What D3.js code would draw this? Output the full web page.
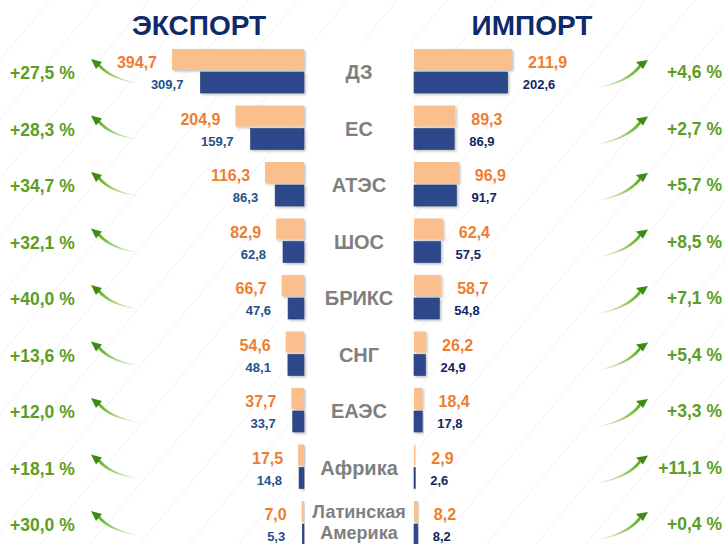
<!DOCTYPE html>
<html>
<head>
<meta charset="utf-8">
<script src="https://cdn.jsdelivr.net/npm/d3@7"></script>
<style>
  body { margin: 0; background: #fff; }
  text { font-family: "Liberation Sans", Arial, sans-serif; font-weight: bold; }
</style>
</head>
<body>
<div id="chart"></div>
<script>
// data
const regions = ["ДЗ", "ЕС", "АТЭС", "ШОС", "БРИКС", "СНГ", "ЕАЭС", "Африка", "Латинская Америка"];
const exportCur = [394.7, 204.9, 116.3, 82.9, 66.7, 54.6, 37.7, 17.5, 7.0];
const exportPrev = [309.7, 159.7, 86.3, 62.8, 47.6, 48.1, 33.7, 14.8, 5.3];
const exportChange = ["+27,5 %", "+28,3 %", "+34,7 %", "+32,1 %", "+40,0 %", "+13,6 %", "+12,0 %", "+18,1 %", "+30,0 %"];
const importCur = [211.9, 89.3, 96.9, 62.4, 58.7, 26.2, 18.4, 2.9, 8.2];
const importPrev = [202.6, 86.9, 91.7, 57.5, 54.8, 24.9, 17.8, 2.6, 8.2];
const importChange = ["+4,6 %", "+2,7 %", "+5,7 %", "+8,5 %", "+7,1 %", "+5,4 %", "+3,3 %", "+11,1 %", "+0,4 %"];
const titles = ["ЭКСПОРТ", "ИМПОРТ"];

const width = 725, height = 544;
const leftEdge = 304, rightEdge = 414;
const barH = 21, barGap = 2;

const svg = d3.select("#chart")
  .append("svg")
    .attr("width", width)
    .attr("height", height);

const defs = svg.append("defs");

// faint diagonal background texture
const pat = defs.append("pattern")
  .attr("id", "stripes")
  .attr("width", 38).attr("height", 38)
  .attr("patternUnits", "userSpaceOnUse")
  .attr("patternTransform", "rotate(40)");
pat.append("line")
  .attr("x1", 0).attr("y1", 0).attr("x2", 0).attr("y2", 38)
  .attr("stroke", "#f3f3f3").attr("stroke-width", 2);

const shadow = defs.append("filter").attr("id", "shadow")
  .attr("x", "-10%").attr("y", "-20%").attr("width", "130%").attr("height", "160%");
shadow.append("feDropShadow")
  .attr("dx", 1.5).attr("dy", 1.5).attr("stdDeviation", 1)
  .attr("flood-color", "#000").attr("flood-opacity", 0.25);

const grad = defs.append("linearGradient").attr("id", "arrowGrad")
  .attr("x1", "0%").attr("x2", "100%");
grad.append("stop").attr("offset", "0%").attr("stop-color", "#d8efb0").attr("stop-opacity", 0.5);
grad.append("stop").attr("offset", "100%").attr("stop-color", "#5aab1a");

const leftGrad = defs.append("linearGradient").attr("id", "arrowGradL")
  .attr("x1", "100%").attr("x2", "0%");
leftGrad.append("stop").attr("offset", "0%").attr("stop-color", "#d8efb0").attr("stop-opacity", 0.5);
leftGrad.append("stop").attr("offset", "100%").attr("stop-color", "#5aab1a");

svg.append("rect").attr("width", width).attr("height", height).attr("fill", "#fff");
svg.append("rect").attr("width", width).attr("height", height).attr("fill", "url(#stripes)");

// white centre column
svg.append("rect")
  .attr("x", leftEdge).attr("y", 44)
  .attr("width", rightEdge - leftEdge).attr("height", height - 44)
  .attr("fill", "#fff");

// scales
const y = d3.scaleBand()
  .domain(regions)
  .range([49, 49 + 56.5 * regions.length]);

const xExp = d3.scaleLinear().domain([0, 394.7]).range([0, 132]);
const xImp = d3.scaleLinear().domain([0, 211.9]).range([0, 98]);

const fmt = v => d3.format(".1f")(v).replace(".", ",");

const rows = regions.map((r, i) => ({
  region: r,
  expCur: exportCur[i], expPrev: exportPrev[i], expChg: exportChange[i],
  impCur: importCur[i], impPrev: importPrev[i], impChg: importChange[i]
}));

// titles
svg.append("text")
  .attr("x", 199).attr("y", 35)
  .attr("text-anchor", "middle")
  .attr("font-size", 28)
  .attr("fill", "#0f2a6b")
  .text(titles[0]);
svg.append("text")
  .attr("x", 532).attr("y", 35)
  .attr("text-anchor", "middle")
  .attr("font-size", 28)
  .attr("fill", "#0f2a6b")
  .text(titles[1]);

const g = svg.selectAll("g.row")
  .data(rows)
  .enter()
  .append("g")
    .attr("class", "row")
    .attr("transform", d => `translate(0,${y(d.region)})`);

// export bars
g.append("rect")
  .attr("x", d => leftEdge - xExp(d.expCur))
  .attr("y", 0)
  .attr("width", d => xExp(d.expCur))
  .attr("height", barH)
  .attr("fill", "#fbbf8e")
  .attr("filter", "url(#shadow)");
g.append("rect")
  .attr("x", d => leftEdge - xExp(d.expPrev))
  .attr("y", barH + barGap)
  .attr("width", d => xExp(d.expPrev))
  .attr("height", barH)
  .attr("fill", "#2e4a8b")
  .attr("stroke", "#223a74").attr("stroke-width", 0.6)
  .attr("filter", "url(#shadow)");

// import bars
g.append("rect")
  .attr("x", rightEdge)
  .attr("y", 0)
  .attr("width", d => xImp(d.impCur))
  .attr("height", barH)
  .attr("fill", "#fbbf8e")
  .attr("filter", "url(#shadow)");
g.append("rect")
  .attr("x", rightEdge)
  .attr("y", barH + barGap)
  .attr("width", d => xImp(d.impPrev))
  .attr("height", barH)
  .attr("fill", "#2e4a8b")
  .attr("stroke", "#223a74").attr("stroke-width", 0.6)
  .attr("filter", "url(#shadow)");

// value labels
g.append("text")
  .attr("x", d => leftEdge - xExp(d.expCur) - 15)
  .attr("y", 19)
  .attr("text-anchor", "end")
  .attr("font-size", 16)
  .attr("fill", "#ee7d32")
  .text(d => fmt(d.expCur));
g.append("text")
  .attr("x", d => leftEdge - xExp(d.expPrev) - 17)
  .attr("y", 40)
  .attr("text-anchor", "end")
  .attr("font-size", 13)
  .attr("fill", "#24508a")
  .text(d => fmt(d.expPrev));
g.append("text")
  .attr("x", d => rightEdge + xImp(d.impCur) + 16)
  .attr("y", 19)
  .attr("font-size", 16)
  .attr("fill", "#ee7d32")
  .text(d => fmt(d.impCur));
g.append("text")
  .attr("x", d => rightEdge + xImp(d.impPrev) + 15)
  .attr("y", 40)
  .attr("font-size", 13)
  .attr("fill", "#13265e")
  .text(d => fmt(d.impPrev));

// region names
g.each(function(d) {
  const words = d.region.split(" ");
  const sel = d3.select(this);
  if (words.length === 1) {
    sel.append("text")
      .attr("x", (leftEdge + rightEdge) / 2)
      .attr("y", 30)
      .attr("text-anchor", "middle")
      .attr("font-size", 20)
      .attr("fill", "#7f7f7f")
      .text(d.region);
  } else {
    // two-line name: separate text elements, slightly smaller
    words.forEach((w, k) => {
      sel.append("text")
        .attr("x", (leftEdge + rightEdge) / 2)
        .attr("y", 17 + k * 21)
        .attr("text-anchor", "middle")
        .attr("font-size", 18)
        .attr("fill", "#7f7f7f")
        .text(w);
    });
  }
});

// change labels
g.append("text")
  .attr("x", 10).attr("y", 30)
  .attr("font-size", 17.5)
  .attr("fill", "#5c9e22")
  .text(d => d.expChg);
g.append("text")
  .attr("x", 722).attr("y", 29)
  .attr("text-anchor", "end")
  .attr("font-size", 17.5)
  .attr("fill", "#5c9e22")
  .text(d => d.impChg);

// curved arrows (tapered), thin at the tail, thick near the head
function taper(x0, y0, cx, cy, x1, y1, w) {
  const nx = -(y1 - y0), ny = (x1 - x0);
  const len = Math.hypot(nx, ny);
  const ox = nx / len * w, oy = ny / len * w;
  return `M${x0},${y0} Q${cx + ox * 0.6},${cy + oy * 0.6} ${x1 + ox * 0.5},${y1 + oy * 0.5}` +
         ` L${x1 - ox * 0.5},${y1 - oy * 0.5} Q${cx - ox * 0.1},${cy - oy * 0.1} ${x0},${y0} Z`;
}

g.append("path")
  .attr("d", taper(139, 34, 110, 31, 98, 15, 3.2))
  .attr("fill", "url(#arrowGradL)");
g.append("path")
  .attr("d", "M91,10 L102,13 L96,20 Z")
  .attr("fill", "#3f8a12");

g.append("path")
  .attr("d", taper(596, 39, 628, 34, 640, 17, -3.2))
  .attr("fill", "url(#arrowGrad)");
g.append("path")
  .attr("d", "M648,11 L636,13 L643,20 Z")
  .attr("fill", "#3f8a12");
</script>
</body>
</html>
